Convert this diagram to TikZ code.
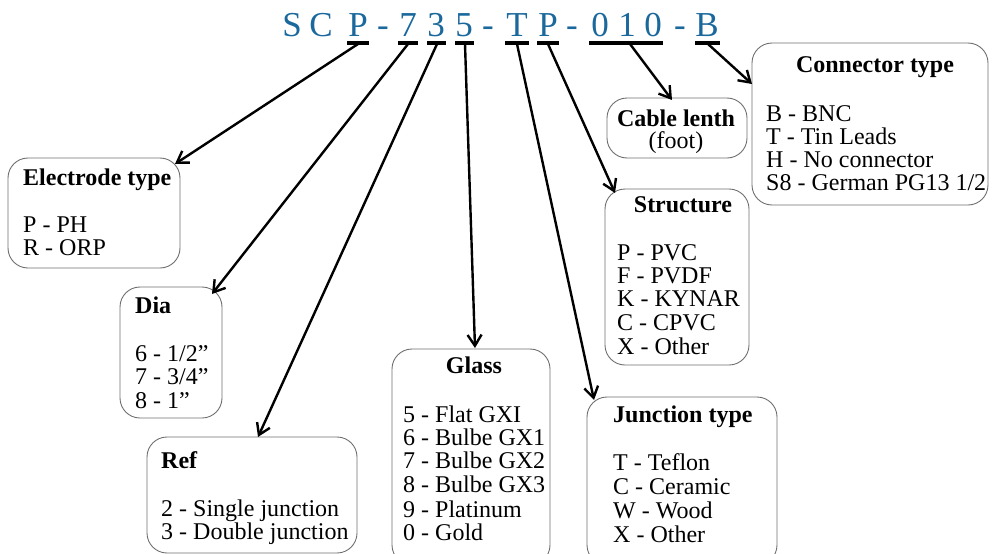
\documentclass[tikz,border=0pt]{standalone}
\usepackage{fontspec}
\setmainfont{Liberation Serif}
\usetikzlibrary{arrows.meta}
\definecolor{titleblue}{RGB}{26,104,156}
\definecolor{boxgray}{RGB}{110,110,110}
\begin{document}
\begin{tikzpicture}[x=1pt,y=-1pt,
  box/.style={draw=boxgray,line width=0.9pt,rounded corners=20pt,inner sep=0pt,anchor=center},
  txt/.style={font=\fontsize{24}{24}\selectfont,inner sep=0pt,anchor=base west},
  ttl/.style={font=\fontsize{24}{24}\selectfont\bfseries,inner sep=0pt,anchor=base west},
  big/.style={font=\fontsize{35}{36}\selectfont,text=titleblue,inner sep=0pt,anchor=base},
  bar/.style={line width=3.2pt},
  arr/.style={line width=2.4pt,-{Straight Barb[length=11pt,width=14pt,line width=2.4pt]}}
]
\useasboundingbox (0,0) rectangle (993,554);
\begin{scope}
\clip (0,0) rectangle (993,554);
% boxes
\node[box,minimum width=172pt,minimum height=110pt] (elec) at (94,213) {};
\node[box,minimum width=102pt,minimum height=131pt] (dia) at (171,352.5) {};
\node[box,minimum width=210pt,minimum height=116pt] (ref) at (252,495) {};
\node[box,minimum width=158pt,minimum height=216pt] (glass) at (471,457) {};
\node[box,minimum width=190pt,minimum height=168pt] (junc) at (682,481) {};
\node[box,minimum width=144pt,minimum height=176pt] (struct) at (677,277) {};
\node[box,minimum width=140pt,minimum height=60pt] (cable) at (677,128) {};
\node[box,minimum width=236pt,minimum height=162pt] (conn) at (870,124) {};
\end{scope}

% title letters
\node[big] (s1) at (292,36) {S};
\node[big] (s2) at (321,36) {C};
\node[big] (s3) at (358,36) {P};
\node[big] (d1) at (383,36) {-};
\node[big] (s4) at (408,36) {7};
\node[big] (s5) at (436,36) {3};
\node[big] (s6) at (464,36) {5};
\node[big] (d2) at (488,36) {-};
\node[big] (s7) at (517,36) {T};
\node[big] (s8) at (548,36) {P};
\node[big] (d3) at (572,36) {-};
\node[big] (s9) at (600,36) {0};
\node[big] (s10) at (627,36) {1};
\node[big] (s11) at (653,36) {0};
\node[big] (d4) at (680,36) {-};
\node[big] (s12) at (707,36) {B};

% underline bars
\draw[bar] (347,43) -- (369,43);
\draw[bar] (398,43) -- (418,43);
\draw[bar] (427,43) -- (446,43);
\draw[bar] (455,43) -- (474,43);
\draw[bar] (505,43) -- (529,43);
\draw[bar] (537,43) -- (559,43);
\draw[bar] (589,43) -- (663,43);
\draw[bar] (695,43) -- (720,43);

% arrow starts and ends
\coordinate (aP) at (358,44);
\coordinate (a7) at (408,44);
\coordinate (a3) at (437,44);
\coordinate (a5) at (465,44);
\coordinate (aT) at (517,44);
\coordinate (aP2) at (548,44);
\coordinate (a010) at (630,44);
\coordinate (aB) at (708,44);
\coordinate (eElec) at (175,164);
\coordinate (eDia) at (212,294);
\coordinate (eRef) at (258,437);
\coordinate (eGlass) at (475,348);
\coordinate (eJunc) at (594,400);
\coordinate (eStruct) at (615,193);
\coordinate (eCable) at (672,100);
\coordinate (eConn) at (752,84);

\draw[arr] (aP) -- (eElec);
\draw[arr] (a7) -- (eDia);
\draw[arr] (a3) -- (eRef);
\draw[arr] (a5) -- (eGlass);
\draw[arr] (aT) -- (eJunc);
\draw[arr] (aP2) -- (eStruct);
\draw[arr] (a010) -- (eCable);
\draw[arr] (aB) -- (eConn);

% Electrode
\node[ttl] (t1) at (23,185) {Electrode type};
\node[txt] (t1a) at (23,232) {P - PH};
\node[txt] (t1b) at (23,255) {R - ORP};
% Dia
\node[ttl] (t2) at (135,313) {Dia};
\node[txt] (t2a) at (135,361) {6 - 1/2”};
\node[txt] (t2b) at (135,384) {7 - 3/4”};
\node[txt] (t2c) at (135,408) {8 - 1”};
% Ref
\node[ttl] (t3) at (161,468) {Ref};
\node[txt] (t3a) at (161,516) {2 - Single junction};
\node[txt] (t3b) at (161,539) {3 - Double junction};
% Glass
\node[ttl,anchor=base] (t4) at (474,373) {Glass};
\node[txt] (t4a) at (403,422) {5 - Flat GXI};
\node[txt] (t4b) at (403,445) {6 - Bulbe GX1};
\node[txt] (t4c) at (403,468) {7 - Bulbe GX2};
\node[txt] (t4d) at (403,492) {8 - Bulbe GX3};
\node[txt] (t4e) at (403,517) {9 - Platinum};
\node[txt] (t4f) at (403,540) {0 - Gold};
% Junction
\node[ttl] (t5) at (613,422) {Junction type};
\node[txt] (t5a) at (613,470) {T - Teflon};
\node[txt] (t5b) at (613,494) {C - Ceramic};
\node[txt] (t5c) at (613,518) {W - Wood};
\node[txt] (t5d) at (613,542) {X - Other};
% Structure
\node[ttl,anchor=base] (t6) at (683,212) {Structure};
\node[txt] (t6a) at (617,260) {P - PVC};
\node[txt] (t6b) at (617,283) {F - PVDF};
\node[txt] (t6c) at (617,306) {K - KYNAR};
\node[txt] (t6d) at (617,330) {C - CPVC};
\node[txt] (t6e) at (617,354) {X - Other};
% Cable
\node[ttl,anchor=base] (t7) at (676,126) {Cable lenth};
\node[txt,anchor=base] (t7a) at (676,148) {(foot)};
% Connector
\node[ttl,anchor=base] (t8) at (875,72) {Connector type};
\node[txt] (t8a) at (766,121) {B - BNC};
\node[txt] (t8b) at (766,144) {T - Tin Leads};
\node[txt] (t8c) at (766,167) {H - No connector};
\node[txt] (t8d) at (766,190) {S8 - German PG13 1/2};
\end{tikzpicture}
\end{document}
